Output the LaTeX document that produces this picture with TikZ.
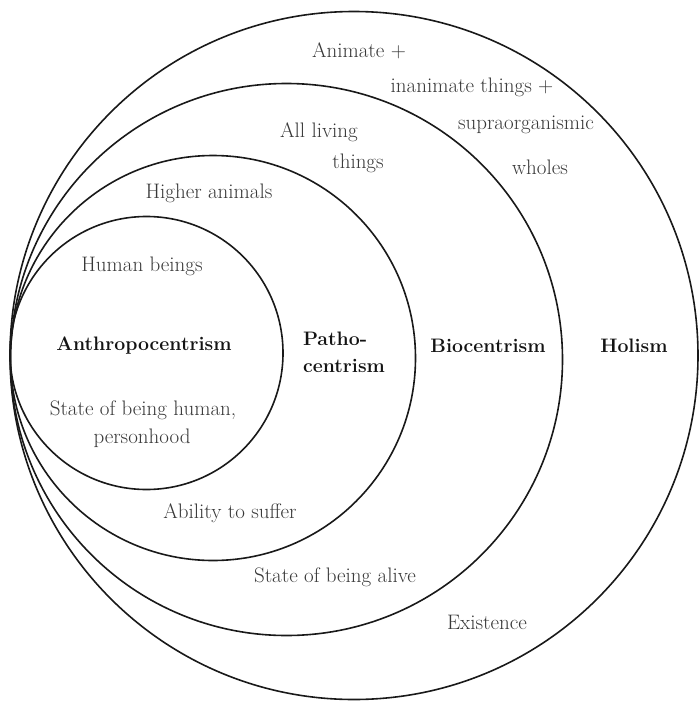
\documentclass[tikz,border=0pt]{standalone}
\usepackage{fontspec}
\usetikzlibrary{positioning}

\begin{document}
\begin{tikzpicture}[x=1pt, y=-1pt,
ring/.style={draw=black!90, line width=1.6pt},
note/.style={text=black!78, inner sep=0pt, font=\fontsize{21}{26}\selectfont},
ethic/.style={text=black!92, inner sep=0pt, align=left, font=\fontsize{19.5}{27}\selectfont\bfseries}
]
    \useasboundingbox (0,0) rectangle (699,702);

    %Circles
    \draw[ring] (146.5,353) circle (136.5pt);
    \draw[ring] (213,358) circle (202.5pt);
    \draw[ring] (286.5,359.5) circle (276pt);
    \draw[ring] (354,355.5) circle (344pt);

    %Ethics
    \node[ethic] (anthro) at (144,346) {Anthropocentrism};
    \node[ethic] (patho)  at (344,352) {Patho-\\centrism};
    \node[ethic] (bio)    at (488,346) {Biocentrism};
    \node[ethic] (holism) at (634,346) {Holism};

    %Who counts
    \node[note] (human)   at (142,266) {Human beings};
    \node[note] (higher)  at (209,193) {Higher animals};
    \node[note] (living)  at (319,132) {All living};
    \node[note] (things)  at (358,163) {things};
    \node[note] (animate) at (359,51)  {Animate +};
    \node[note] (inanim)  at (472,87)  {inanimate things +};
    \node[note] (supra)   at (526,125) {supraorganismic};
    \node[note] (wholes)  at (540,167) {wholes};

    %Criteria
    \node[note] (being)   at (143,410) {State of being human,};
    \node[note] (person)  at (142,438) {personhood};
    \node[note] (suffer)  at (230,513) {Ability to suffer};
    \node[note] (alive)   at (335,577) {State of being alive};
    \node[note] (exist)   at (487,622) {Existence};
\end{tikzpicture}
\end{document}
